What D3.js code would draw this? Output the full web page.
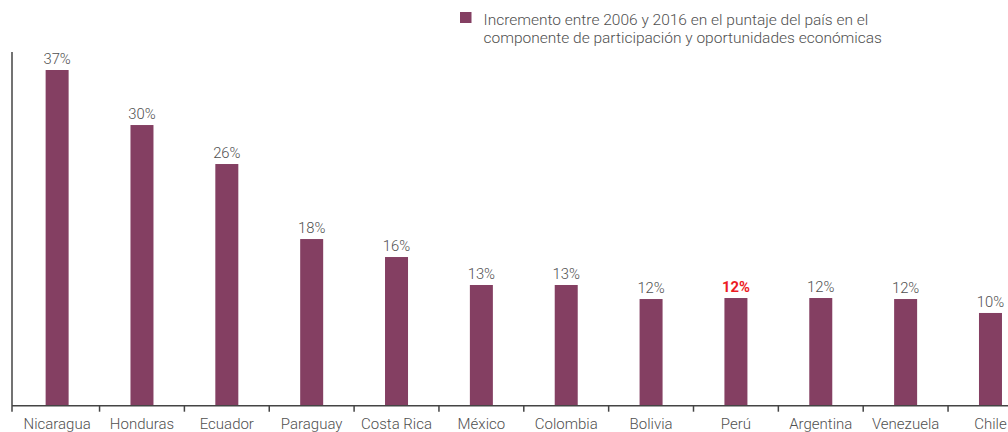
<!DOCTYPE html>
<html>
<head>
<meta charset="utf-8">
<script src="https://cdn.jsdelivr.net/npm/d3@7"></script>
<style>
html,body{margin:0;padding:0;background:#fff;}
svg{display:block;}
text{font-family:Roboto,"Noto Sans",sans-serif;}
</style>
</head>
<body>
<svg id="chart" width="1008" height="432"></svg>
<script>
const categories = ["Nicaragua","Honduras","Ecuador","Paraguay","Costa Rica","México","Colombia","Bolivia","Perú","Argentina","Venezuela","Chile"];
const values = [36.6, 30.6, 26.35, 18.17, 16.21, 13.16, 13.16, 11.63, 11.74, 11.74, 11.63, 10.11];
const valueLabels = ["37%","30%","26%","18%","16%","13%","13%","12%","12%","12%","12%","10%"];
const highlight = ["Perú"];
const legendLines = ["Incremento entre 2006 y 2016 en el puntaje del país en el","componente de participación y oportunidades económicas"];

const barColor = "#843f62";
const textColor = "#505050";
const svg = d3.select("#chart");

const baseY = 405.7;
const x = d3.scaleBand().domain(categories).range([14.7, 14.7 + 12 * 84.85]).padding(0);
const y = d3.scaleLinear().domain([0, 40]).range([baseY, baseY - 40 * 9.172]);
const barW = 23;

// bars
svg.append("g").selectAll("rect").data(categories).join("rect")
  .attr("x", d => x(d) + (x.bandwidth() - barW) / 2)
  .attr("width", barW)
  .attr("y", (d, i) => y(values[i]))
  .attr("height", (d, i) => y(0) - y(values[i]))
  .attr("fill", barColor);

// value labels
svg.append("g").selectAll("text").data(categories).join("text")
  .attr("x", d => x(d) + x.bandwidth() / 2)
  .attr("y", (d, i) => y(values[i]) - 6)
  .attr("text-anchor", "middle")
  .attr("font-size", 14.8)
  .attr("font-weight", d => highlight.includes(d) ? 700 : 300)
  .attr("fill", d => highlight.includes(d) ? "#ec1c24" : textColor)
  .text((d, i) => valueLabels[i]);

// x axis
const xAxis = d3.axisBottom(x).tickSize(0).tickPadding(0);
const gx = svg.append("g").attr("transform", `translate(0,${baseY})`).call(xAxis);
gx.select(".domain").remove();
gx.selectAll(".tick line").remove();
gx.selectAll(".tick text")
  .attr("y", 23.5).attr("dy", null)
  .attr("font-size", 15).attr("font-weight", 300)
  .attr("font-family", "Roboto")
  .attr("fill", textColor);

// baseline and ticks at band boundaries
svg.append("line").attr("x1", 12).attr("x2", 1008).attr("y1", baseY).attr("y2", baseY)
  .attr("stroke", "#444").attr("stroke-width", 1.5);
svg.append("g").selectAll("line").data(categories.slice(1)).join("line")
  .attr("x1", d => x(d)).attr("x2", d => x(d))
  .attr("y1", baseY).attr("y2", baseY + 6)
  .attr("stroke", "#444").attr("stroke-width", 1.5);

// left axis line
svg.append("line").attr("x1", 12).attr("x2", 12).attr("y1", 52).attr("y2", baseY + 6)
  .attr("stroke", "#444").attr("stroke-width", 1.5);

// legend
svg.append("rect").attr("x", 460).attr("y", 12).attr("width", 11.5).attr("height", 11).attr("fill", barColor);
svg.append("g").selectAll("text").data(legendLines).join("text")
  .attr("x", 483.5)
  .attr("y", (d, i) => 24.5 + i * 18.5)
  .attr("font-size", 15.5)
  .attr("font-weight", 300)
  .attr("fill", textColor)
  .text(d => d);
</script>
</body>
</html>
